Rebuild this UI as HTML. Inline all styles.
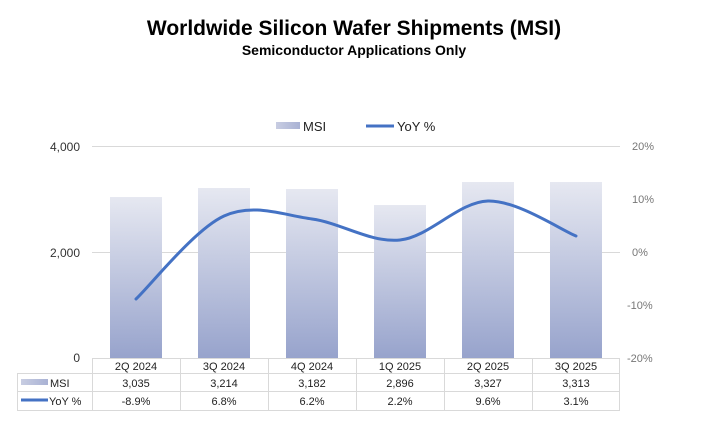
<!DOCTYPE html>
<html><head><meta charset="utf-8"><style>
body{margin:0;background:#fff;}
svg{display:block;font-family:"Liberation Sans",Arial,sans-serif;}
</style></head><body>
<svg width="708" height="424" viewBox="0 0 708 424">
<defs>
<linearGradient id="g" x1="0" y1="0" x2="0" y2="1">
<stop offset="0" stop-color="#e6e8f1"/><stop offset="1" stop-color="#97a3cc"/>
</linearGradient>
<linearGradient id="lg" x1="0" y1="0" x2="1" y2="0">
<stop offset="0" stop-color="#c8cde2"/><stop offset="1" stop-color="#a9b2d4"/>
</linearGradient>
</defs>
<text x="354" y="35" text-anchor="middle" font-size="21" font-weight="bold" fill="#000">Worldwide Silicon Wafer Shipments (MSI)</text>
<text x="354" y="55" text-anchor="middle" font-size="14" font-weight="bold" fill="#000">Semiconductor Applications Only</text>
<!-- legend -->
<rect x="276" y="122" width="24" height="7" fill="url(#lg)"/>
<text x="303" y="131" font-size="13" fill="#222">MSI</text>
<line x1="366" y1="126" x2="394" y2="126" stroke="#4472c4" stroke-width="3"/>
<text x="397" y="131" font-size="13" fill="#222">YoY %</text>
<!-- gridlines -->
<g stroke="#d9d9d9" stroke-width="1">
<line x1="92" y1="146.5" x2="620" y2="146.5"/>
<line x1="92" y1="252.5" x2="620" y2="252.5"/>
</g>
<g font-size="12" fill="#333" text-anchor="end">
<text x="80" y="151">4,000</text><text x="80" y="257">2,000</text><text x="80" y="362">0</text>
</g>
<g font-size="11" fill="#777">
<text x="632" y="150">20%</text><text x="632" y="203">10%</text><text x="632" y="256">0%</text>
<text x="627" y="309">-10%</text><text x="627" y="362">-20%</text>
</g>
<!-- bars -->
<g fill="url(#g)">
<rect x="110" y="197" width="52" height="161"/>
<rect x="198" y="188" width="52" height="170"/>
<rect x="286" y="189" width="52" height="169"/>
<rect x="374" y="205" width="52" height="153"/>
<rect x="462" y="182" width="52" height="176"/>
<rect x="550" y="182" width="52" height="176"/>
</g>
<path d="M136,299 C150.7,285.2 194.7,229.3 224,216 C253.3,202.7 282.7,215 312,219 C341.3,223 370.7,243 400,240 C429.3,237 458.7,201.7 488,201 C517.3,200.3 561.3,230.2 576,236" fill="none" stroke="#4472c4" stroke-width="3" stroke-linecap="round"/>
<!-- table -->
<g stroke="#d9d9d9" stroke-width="1" fill="none">
<line x1="92" y1="358.5" x2="620" y2="358.5"/>
<line x1="17" y1="373.5" x2="620" y2="373.5"/>
<line x1="17" y1="391.5" x2="620" y2="391.5"/>
<line x1="17" y1="410.5" x2="620" y2="410.5"/>
<line x1="17.5" y1="373" x2="17.5" y2="411"/>
<line x1="92.5" y1="358" x2="92.5" y2="411"/>
<line x1="180.5" y1="358" x2="180.5" y2="411"/>
<line x1="268.5" y1="358" x2="268.5" y2="411"/>
<line x1="356.5" y1="358" x2="356.5" y2="411"/>
<line x1="444.5" y1="358" x2="444.5" y2="411"/>
<line x1="532.5" y1="358" x2="532.5" y2="411"/>
<line x1="619.5" y1="358" x2="619.5" y2="411"/>
</g>
<g font-size="11" fill="#222" text-anchor="middle">
<text x="136" y="370">2Q 2024</text><text x="224" y="370">3Q 2024</text><text x="312" y="370">4Q 2024</text><text x="400" y="370">1Q 2025</text><text x="488" y="370">2Q 2025</text><text x="576" y="370">3Q 2025</text>
<text x="136" y="387">3,035</text><text x="224" y="387">3,214</text><text x="312" y="387">3,182</text><text x="400" y="387">2,896</text><text x="488" y="387">3,327</text><text x="576" y="387">3,313</text>
<text x="136" y="405">-8.9%</text><text x="224" y="405">6.8%</text><text x="312" y="405">6.2%</text><text x="400" y="405">2.2%</text><text x="488" y="405">9.6%</text><text x="576" y="405">3.1%</text>
</g>
<rect x="21" y="379" width="27" height="6" fill="url(#lg)"/>
<text x="50" y="387" font-size="11" fill="#222">MSI</text>
<line x1="21" y1="400" x2="48" y2="400" stroke="#4472c4" stroke-width="3"/>
<text x="49" y="405" font-size="11" fill="#222">YoY %</text>
</svg>
</body></html>
